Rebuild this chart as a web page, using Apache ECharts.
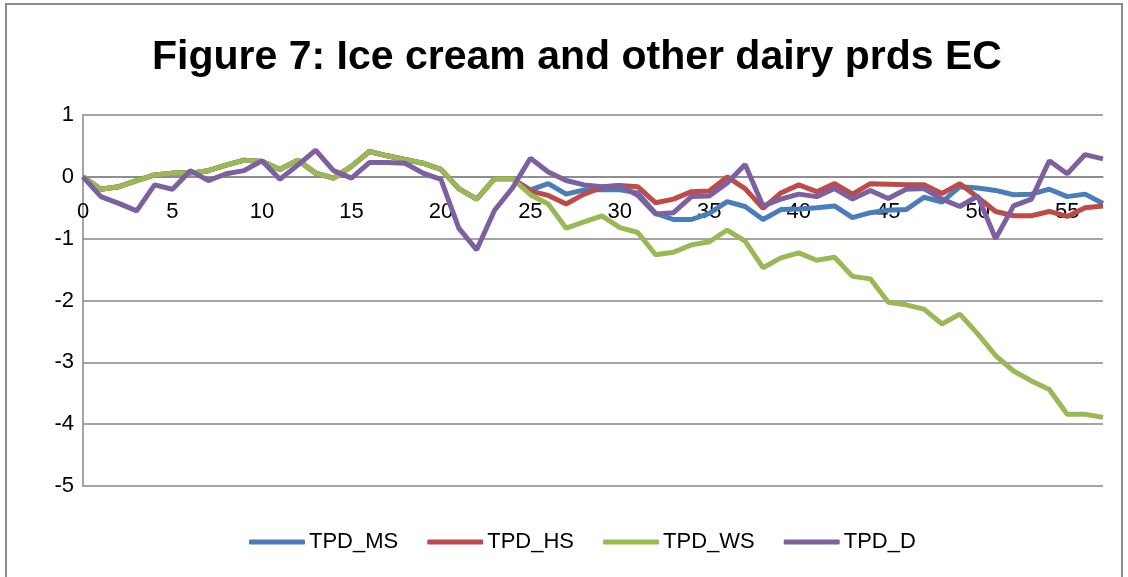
<!DOCTYPE html>
<html>
<head>
<meta charset="utf-8">
<script src="https://cdn.jsdelivr.net/npm/echarts@6/dist/echarts.min.js"></script>
<style>
  html, body { margin: 0; padding: 0; background: #ffffff; }
  .frame {
    position: absolute; left: 5px; top: 3px; width: 1118px; height: 600px;
    border: 2px solid #8a8a8a; box-sizing: border-box;
  }
  #chart { position: absolute; left: 0; top: 0; width: 1128px; height: 577px; }
</style>
</head>
<body>
<div class="frame"></div>
<div id="chart"></div>
<script>
// x categories (period index)
var periods = ['0','1','2','3','4','5','6','7','8','9','10','11','12','13','14','15','16','17','18','19',
  '20','21','22','23','24','25','26','27','28','29','30','31','32','33','34','35','36','37','38','39',
  '40','41','42','43','44','45','46','47','48','49','50','51','52','53','54','55','56','57'];

var tpdMS = [0, -0.2, -0.16, -0.06, 0.03, 0.06, 0.06, 0.1, 0.19, 0.27,
  0.25, 0.12, 0.27, 0.06, -0.02, 0.17, 0.41, 0.34, 0.28, 0.22,
  0.12, -0.19, -0.36, -0.03, -0.03, -0.21, -0.11, -0.28, -0.21, -0.21,
  -0.21, -0.26, -0.59, -0.69, -0.69, -0.59, -0.4, -0.48, -0.69, -0.53,
  -0.52, -0.5, -0.47, -0.66, -0.58, -0.54, -0.53, -0.33, -0.41, -0.16,
  -0.18, -0.22, -0.29, -0.28, -0.2, -0.32, -0.28, -0.43];

var tpdHS = [0, -0.2, -0.16, -0.06, 0.03, 0.06, 0.06, 0.1, 0.19, 0.27,
  0.25, 0.12, 0.27, 0.06, -0.02, 0.17, 0.41, 0.34, 0.28, 0.22,
  0.12, -0.19, -0.36, -0.03, -0.03, -0.23, -0.3, -0.44, -0.28, -0.17,
  -0.14, -0.16, -0.42, -0.36, -0.24, -0.23, 0.0, -0.19, -0.51, -0.26,
  -0.13, -0.24, -0.11, -0.28, -0.11, -0.12, -0.13, -0.13, -0.27, -0.11,
  -0.33, -0.56, -0.63, -0.63, -0.56, -0.64, -0.5, -0.47];

var tpdWS = [0, -0.2, -0.16, -0.06, 0.03, 0.06, 0.06, 0.1, 0.19, 0.27,
  0.25, 0.12, 0.27, 0.06, -0.02, 0.17, 0.41, 0.34, 0.28, 0.22,
  0.12, -0.19, -0.36, -0.03, -0.03, -0.29, -0.44, -0.83, -0.73, -0.63,
  -0.82, -0.9, -1.26, -1.22, -1.1, -1.05, -0.86, -1.04, -1.47, -1.31,
  -1.23, -1.35, -1.3, -1.61, -1.65, -2.03, -2.07, -2.14, -2.38, -2.22,
  -2.54, -2.89, -3.14, -3.3, -3.44, -3.84, -3.84, -3.89];

var tpdD = [0, -0.32, -0.43, -0.55, -0.13, -0.2, 0.1, -0.06, 0.05, 0.1,
  0.26, -0.04, 0.19, 0.43, 0.1, -0.02, 0.23, 0.23, 0.22, 0.06,
  -0.04, -0.83, -1.18, -0.54, -0.18, 0.3, 0.08, -0.06, -0.13, -0.16,
  -0.14, -0.3, -0.6, -0.58, -0.32, -0.31, -0.1, 0.2, -0.47, -0.36,
  -0.28, -0.32, -0.19, -0.36, -0.22, -0.35, -0.2, -0.19, -0.36, -0.48,
  -0.31, -1.0, -0.47, -0.36, 0.26, 0.05, 0.36, 0.29];

var seriesNames = ['TPD_MS', 'TPD_HS', 'TPD_WS', 'TPD_D'];
var seriesColors = ['#4a7ebb', '#be4b48', '#98b954', '#7d60a0'];
var seriesData = [tpdMS, tpdHS, tpdWS, tpdD];

var labelFont = '"Liberation Sans", Arial, sans-serif';

var gridTop = 115, gridBottom = 91, chartH = 577;
var yMin = -5, yMax = 1;
// move the category axis up to the value 0 (axis crosses at zero)
var plotH = chartH - gridTop - gridBottom;
var xAxisShift = -plotH * (0 - yMin) / (yMax - yMin);

var myChart = echarts.init(document.getElementById('chart'));

var option = {
  animation: false,
  title: {
    text: 'Figure 7: Ice cream and other dairy prds EC',
    left: 572,
    top: 32,
    textAlign: 'center',
    textStyle: {
      fontFamily: labelFont,
      fontWeight: 'bold',
      fontSize: 41,
      color: '#000000'
    }
  },
  legend: {
    data: seriesNames,
    left: 244,
    top: 526,
    icon: 'roundRect',
    itemWidth: 56,
    itemHeight: 5,
    itemGap: 29,
    textStyle: { fontFamily: labelFont, fontSize: 22, color: '#000000', padding: [0, 0, 0, -1] }
  },
  grid: { left: 83, right: 25, top: gridTop, bottom: gridBottom },
  xAxis: {
    type: 'category',
    data: periods,
    boundaryGap: false,
    offset: xAxisShift,
    axisLine: { onZero: false, lineStyle: { color: '#868686', width: 1.5 } },
    axisTick: { show: false },
    axisLabel: { interval: 4, margin: 24, fontFamily: labelFont, fontSize: 22, color: '#000000' },
    splitLine: { show: false }
  },
  yAxis: {
    type: 'value',
    min: yMin,
    max: yMax,
    interval: 1,
    axisLine: { show: true, lineStyle: { color: '#868686', width: 1.5 } },
    axisTick: { show: false },
    axisLabel: { margin: 9, fontFamily: labelFont, fontSize: 22, color: '#000000' },
    splitLine: { show: true, lineStyle: { color: '#868686', width: 1.5 } }
  },
  series: seriesNames.map(function (name, k) {
    return {
      name: name,
      type: 'line',
      data: seriesData[k],
      showSymbol: false,
      symbol: 'none',
      color: seriesColors[k],
      lineStyle: { width: 5, color: seriesColors[k] }
    };
  })
};

myChart.setOption(option);
</script>
</body>
</html>
